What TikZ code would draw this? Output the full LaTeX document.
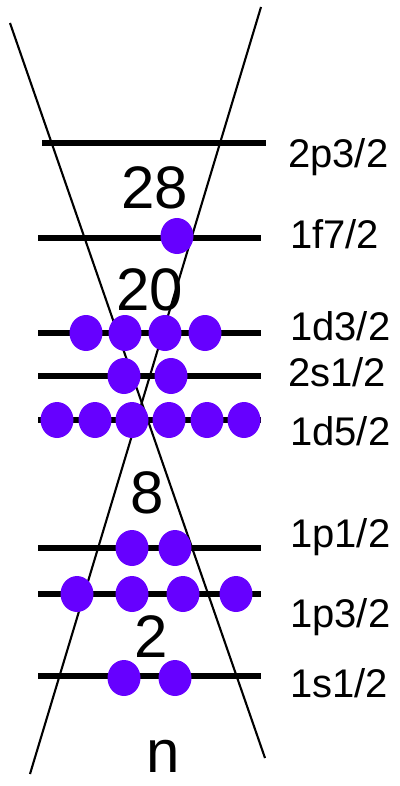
\documentclass[tikz,border=0pt]{standalone}
\usepackage{fontspec}
\setmainfont{Liberation Sans}
\usetikzlibrary{shapes.geometric}
\definecolor{electron}{RGB}{102,0,255}

\begin{document}
\begin{tikzpicture}[
    x=1pt, y=-1pt,
    level/.style={line width=5.5pt, draw=black},
    wedge/.style={line width=2.1pt, draw=black},
    nucleon/.style={ellipse, fill=electron, minimum width=33pt, minimum height=36pt, inner sep=0pt},
    shell/.style={anchor=base west, inner sep=0pt, font=\fontsize{40}{48}\selectfont},
    magic/.style={anchor=base, inner sep=0pt, font=\fontsize{60}{72}\selectfont}
]
    \useasboundingbox (0,0) rectangle (399,786);

    % ==================== CROSSING LINES ====================
    \coordinate (tl) at (10,23);
    \coordinate (br) at (265,758);
    \coordinate (tr) at (261,7);
    \coordinate (bl) at (30,774);
    \draw[wedge] (tl) -- (br);
    \draw[wedge] (tr) -- (bl);

    % ==================== LEVELS ====================
    \coordinate (p32a) at (42,143);  \coordinate (p32b) at (266,143);
    \coordinate (f72a) at (38,238);  \coordinate (f72b) at (261,238);
    \coordinate (d32a) at (38,333);  \coordinate (d32b) at (261,333);
    \coordinate (s12a) at (38,376);  \coordinate (s12b) at (261,376);
    \coordinate (d52a) at (38,420);  \coordinate (d52b) at (261,420);
    \coordinate (p12a) at (38,548);  \coordinate (p12b) at (261,548);
    \coordinate (p3a)  at (38,594);  \coordinate (p3b)  at (261,594);
    \coordinate (s1a)  at (38,676);  \coordinate (s1b)  at (261,676);

    \draw[level] (p32a) -- (p32b);
    \draw[level] (f72a) -- (f72b);
    \draw[level] (d32a) -- (d32b);
    \draw[level] (s12a) -- (s12b);
    \draw[level] (d52a) -- (d52b);
    \draw[level] (p12a) -- (p12b);
    \draw[level] (p3a) -- (p3b);
    \draw[level] (s1a) -- (s1b);

    % ==================== NUCLEONS ====================
    % 1f7/2
    \node[nucleon] (f1) at (177,236) {};

    % 1d3/2
    \node[nucleon] (d3a) at (86,333) {};
    \node[nucleon] (d3b) at (125,333) {};
    \node[nucleon] (d3c) at (165,333) {};
    \node[nucleon] (d3d) at (205,333) {};

    % 2s1/2
    \node[nucleon] (s2a) at (124,376) {};
    \node[nucleon] (s2b) at (171,376) {};

    % 1d5/2
    \node[nucleon] (d5a) at (57,420) {};
    \node[nucleon] (d5b) at (95,420) {};
    \node[nucleon] (d5c) at (132,420) {};
    \node[nucleon] (d5d) at (169,420) {};
    \node[nucleon] (d5e) at (207,420) {};
    \node[nucleon] (d5f) at (244,420) {};

    % 1p1/2
    \node[nucleon] (p1a) at (132,548) {};
    \node[nucleon] (p1b) at (175,548) {};

    % 1p3/2
    \node[nucleon] (p3c) at (77,594) {};
    \node[nucleon] (p3d) at (132,594) {};
    \node[nucleon] (p3e) at (183,594) {};
    \node[nucleon] (p3f) at (236,594) {};

    % 1s1/2
    \node[nucleon] (s1c) at (124,678) {};
    \node[nucleon] (s1d) at (175,678) {};

    % ==================== LABELS ====================
    \node[shell] (l2p32) at (288,168) {2p3/2};
    \node[shell] (l1f72) at (290,248) {1f7/2};
    \node[shell] (l1d32) at (290,340) {1d3/2};
    \node[shell] (l2s12) at (288,386) {2s1/2};
    \node[shell] (l1d52) at (290,445) {1d5/2};
    \node[shell] (l1p12) at (290,547) {1p1/2};
    \node[shell] (l1p32) at (290,627) {1p3/2};
    \node[shell] (l1s12) at (290,697) {1s1/2};

    \node[magic] (m28) at (155,208) {28};
    \node[magic] (m20) at (150,310) {20};
    \node[magic] (m8)  at (147,513) {8};
    \node[magic] (m2)  at (151,657) {2};
    \node[magic] (mn)  at (163,772) {n};

\end{tikzpicture}
\end{document}
